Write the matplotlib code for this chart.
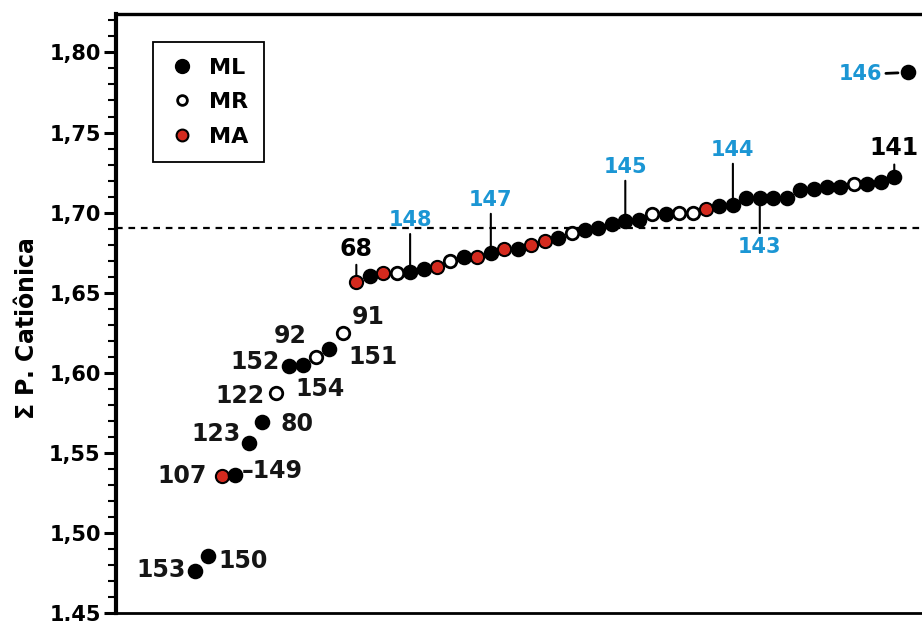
import matplotlib.pyplot as plt
from matplotlib.lines import Line2D
from matplotlib.ticker import MultipleLocator, FuncFormatter

# valores ordenados (soma dos parametros cationicos) e grupo de cada amostra
valores = [1.476, 1.4856, 1.5356, 1.536, 1.556, 1.569, 1.5875, 1.604, 1.605, 1.610,
           1.615, 1.625, 1.6569, 1.6606, 1.662, 1.6625, 1.663, 1.665, 1.666, 1.670,
           1.6725, 1.6725, 1.675, 1.6775, 1.6775, 1.680, 1.682, 1.684, 1.6875, 1.689,
           1.6906, 1.693, 1.695, 1.6956, 1.699, 1.699, 1.700, 1.700, 1.702, 1.704,
           1.705, 1.709, 1.709, 1.709, 1.709, 1.714, 1.715, 1.716, 1.716, 1.718,
           1.718, 1.719, 1.722, 1.7875]
grupos = ['ML', 'ML', 'MA', 'ML', 'ML', 'ML', 'MR', 'ML', 'ML', 'MR',
          'ML', 'MR', 'MA', 'ML', 'MA', 'MR', 'ML', 'ML', 'MA', 'MR',
          'ML', 'MA', 'ML', 'MA', 'ML', 'MA', 'MA', 'ML', 'MR', 'ML',
          'ML', 'ML', 'ML', 'ML', 'MR', 'ML', 'MR', 'MR', 'MA', 'ML',
          'ML', 'ML', 'ML', 'ML', 'ML', 'ML', 'ML', 'ML', 'ML', 'MR',
          'ML', 'ML', 'ML', 'ML']
media = 1.6906

# rotulos: (indice do ponto, texto, deslocamento em pixels, alinhamento)
rot_pretos = [(0, '153', (-9, 1), 'right'), (1, '150', (10, -5), 'left'),
              (2, '107', (-15, 0), 'right'), (3, '\u2013149', (6, 4), 'left'),
              (4, '123', (-8, 9), 'right'), (5, '80', (18, -2), 'left'),
              (6, '122', (-11, -3), 'right'), (7, '152', (-9, 4), 'right'),
              (8, '92', (-12, 29), 'center'), (9, '154', (4, -32), 'center'),
              (10, '151', (19, -8), 'left'), (11, '91', (9, 16), 'left')]
# rotulos com linha vertical: (indice, texto, deslocamento, cor)
rot_linha = [(12, '68', (0, 33), 'black'), (16, '148', (0, 52), '#1b96d4'),
             (22, '147', (0, 53), '#1b96d4'), (32, '145', (0, 54), '#1b96d4'),
             (40, '144', (0, 55), '#1b96d4'), (42, '143', (0, -49), '#1b96d4'),
             (52, '141', (0, 29), 'black')]

estilo = {'ML': dict(mfc='black', mec='black', ms=10, mew=1.2),
          'MR': dict(mfc='white', mec='black', ms=9, mew=2.0),
          'MA': dict(mfc='#d42a1e', mec='black', ms=9.5, mew=1.5)}

plt.rcParams['font.family'] = ['DejaVu Sans']
plt.rcParams['font.weight'] = 'bold'

fig = plt.figure(figsize=(9.22, 6.21), dpi=100)
ax = fig.add_axes([116 / 922, 8 / 621, 824 / 922, 599 / 621])

ax.axhline(media, color='black', ls=(0, (3, 2.6)), lw=1.6, zorder=1)

for i, (v, g) in enumerate(zip(valores, grupos)):
    ax.plot(i, v, 'o', zorder=3, **estilo[g])

for i, txt, off, ha in rot_pretos:
    ax.annotate(txt, xy=(i, valores[i]), xytext=off, textcoords='offset pixels',
                ha=ha, va='center', fontsize=17, fontweight='bold', color='#151515')

for i, txt, off, cor in rot_linha:
    tam = 17 if cor == 'black' else 15
    ax.annotate(txt, xy=(i, valores[i]), xytext=off, textcoords='offset pixels',
                ha='center', va='center', fontsize=tam, fontweight='bold', color=cor,
                arrowprops=dict(arrowstyle='-', color='black', lw=1.5,
                                shrinkA=1, shrinkB=4.5))

# 146 com tracinho
ax.annotate('146', xy=(53, valores[53]), xytext=(-26, -2), textcoords='offset pixels',
            ha='right', va='center', fontsize=15, fontweight='bold', color='#1b96d4',
            arrowprops=dict(arrowstyle='-', color='black', lw=2, shrinkA=1, shrinkB=7))

ax.set_xlim(-5.87, 55.4)
ax.set_ylim(1.45, 1.824)
ax.yaxis.set_major_locator(MultipleLocator(0.05))
ax.yaxis.set_minor_locator(MultipleLocator(0.01))
ax.yaxis.set_major_formatter(FuncFormatter(lambda v, p: f'{v:.2f}'.replace('.', ',')))
ax.tick_params(axis='y', which='major', direction='out', length=9, width=2.2,
               labelsize=15, pad=2)
ax.tick_params(axis='y', which='minor', direction='out', length=5.5, width=1.5)
ax.set_xticks([])
for lado, lw in [('left', 3), ('top', 2.4), ('bottom', 2), ('right', 2)]:
    ax.spines[lado].set_linewidth(lw)
for t in ax.get_yticklabels():
    t.set_fontweight('bold')

ax.set_ylabel(r'$\Sigma$ P. Catiônica', fontsize=17, fontweight='bold')
ax.yaxis.set_label_coords(-0.094, 0.475)

handles = [Line2D([], [], ls='none', marker='o', mfc='black', mec='black', ms=10),
           Line2D([], [], ls='none', marker='o', mfc='white', mec='black', ms=7, mew=2),
           Line2D([], [], ls='none', marker='o', mfc='#d42a1e', mec='black', ms=8.5, mew=1.5)]
leg = ax.legend(handles, ['ML', 'MR', 'MA'], loc='upper left',
                bbox_to_anchor=(0.045, 0.953), borderaxespad=0, fancybox=False,
                edgecolor='black', framealpha=1, prop={'size': 16, 'weight': 'bold'},
                labelspacing=0.65, handletextpad=0.6, handlelength=1.2,
                borderpad=0.7)
leg.get_frame().set_linewidth(1.3)

fig.savefig('out.png', dpi=100)
